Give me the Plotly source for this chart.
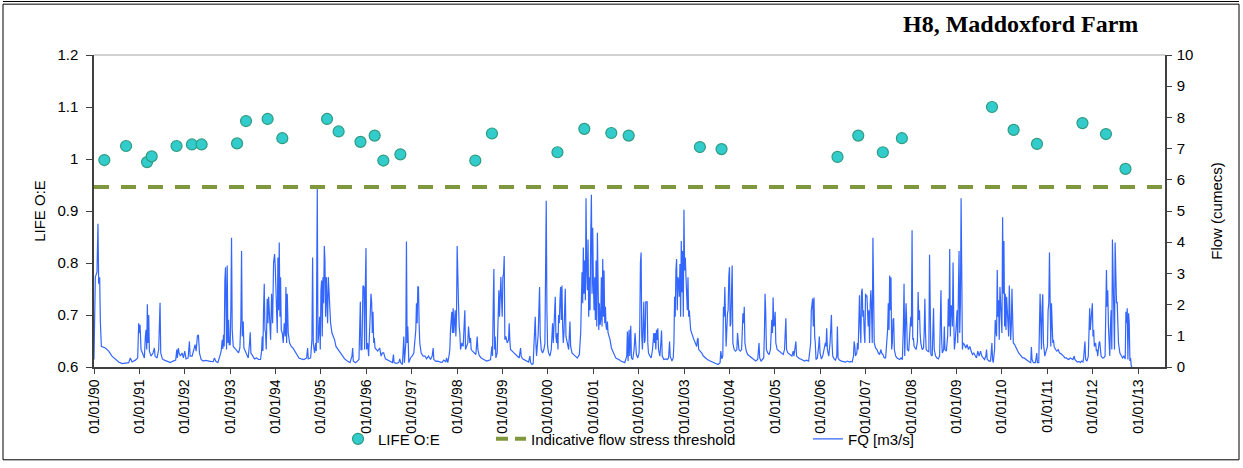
import pandas as pd
import plotly.graph_objects as go

# ---------------- data ----------------
life_dates = [
    "1990-03-25", "1990-09-16", "1991-03-04", "1991-04-10", "1991-10-27",
    "1992-02-28", "1992-05-16", "1993-02-25", "1993-05-08", "1993-10-29",
    "1994-02-24", "1995-02-19", "1995-05-23", "1995-11-15", "1996-03-08",
    "1996-05-17", "1996-10-01", "1998-05-27", "1998-10-08", "2000-03-18",
    "2000-10-20", "2001-05-25", "2001-10-12", "2003-05-08", "2003-10-29",
    "2006-05-19", "2006-11-02", "2007-05-19", "2007-10-19", "2009-10-13",
    "2010-04-05", "2010-10-10", "2011-10-11", "2012-04-17", "2012-09-21",
]
life_oe = [
    0.998, 1.025, 0.994, 1.005, 1.025,
    1.028, 1.028, 1.030, 1.073, 1.077,
    1.040, 1.077, 1.053, 1.033, 1.045,
    0.997, 1.009, 0.997, 1.049, 1.013,
    1.058, 1.050, 1.045, 1.023, 1.019,
    1.004, 1.045, 1.013, 1.040, 1.100,
    1.056, 1.029, 1.069, 1.048, 0.981,
]

threshold_dates = ["1990-01-01", "2013-08-05"]
threshold_oe = [0.946, 0.946]

# Flow readings: time as decimal year, flow in cumecs
fq_year = [
    # 1990
    1990.000, 1990.029, 1990.066, 1990.088, 1990.103, 1990.125, 1990.140, 1990.162, 1990.250, 1990.324,
    1990.397, 1990.471, 1990.544, 1990.618, 1990.691, 1990.765, 1990.801, 1990.838, 1990.912, 1990.963,
    1990.985,
    # 1991
    1991.000, 1991.015, 1991.037, 1991.081, 1991.110, 1991.132, 1991.147, 1991.162, 1991.176, 1991.191,
    1991.206, 1991.221, 1991.257, 1991.301, 1991.331, 1991.346, 1991.390, 1991.426, 1991.441, 1991.456,
    1991.471, 1991.507, 1991.551, 1991.596, 1991.640, 1991.684, 1991.743, 1991.801, 1991.824, 1991.838,
    1991.860, 1991.875, 1991.904, 1991.941, 1991.971,
    # 1992
    1992.000, 1992.029, 1992.074, 1992.103, 1992.118, 1992.162, 1992.206, 1992.228, 1992.250, 1992.279,
    1992.301, 1992.324, 1992.360, 1992.404, 1992.456, 1992.507, 1992.566, 1992.625, 1992.654, 1992.684,
    1992.728, 1992.772, 1992.801, 1992.824, 1992.838, 1992.853, 1992.868, 1992.882, 1992.897, 1992.919,
    1992.934, 1992.949, 1992.963, 1992.978,
    # 1993
    1993.000, 1993.015, 1993.029, 1993.044, 1993.066, 1993.096, 1993.125, 1993.154, 1993.184, 1993.213,
    1993.235, 1993.250, 1993.265, 1993.287, 1993.301, 1993.331, 1993.360, 1993.397, 1993.426, 1993.441,
    1993.456, 1993.493, 1993.537, 1993.581, 1993.625, 1993.669, 1993.691, 1993.706, 1993.721, 1993.735,
    1993.750, 1993.765, 1993.779, 1993.794, 1993.816, 1993.831, 1993.846, 1993.860, 1993.890, 1993.912,
    1993.934, 1993.956, 1993.978, 1993.993,
    # 1994
    1994.007, 1994.022, 1994.037, 1994.051, 1994.066, 1994.081, 1994.096, 1994.110, 1994.125, 1994.147,
    1994.169, 1994.191, 1994.213, 1994.228, 1994.243, 1994.257, 1994.279, 1994.309, 1994.346, 1994.382,
    1994.419, 1994.463, 1994.515, 1994.566, 1994.625, 1994.684, 1994.706, 1994.721, 1994.772, 1994.801,
    1994.816, 1994.831, 1994.860, 1994.882, 1994.897, 1994.919, 1994.934, 1994.949, 1994.971, 1994.985,
    # 1995
    1995.000, 1995.015, 1995.029, 1995.044, 1995.059, 1995.074, 1995.088, 1995.103, 1995.118, 1995.132,
    1995.147, 1995.162, 1995.176, 1995.191, 1995.213, 1995.243, 1995.272, 1995.301, 1995.331, 1995.375,
    1995.419, 1995.471, 1995.522, 1995.581, 1995.640, 1995.684, 1995.699, 1995.713, 1995.765, 1995.801,
    1995.838, 1995.868, 1995.882, 1995.904, 1995.926, 1995.949, 1995.963, 1995.978, 1995.993,
    # 1996
    1996.007, 1996.029, 1996.051, 1996.074, 1996.088, 1996.103, 1996.118, 1996.132, 1996.147, 1996.162,
    1996.176, 1996.191, 1996.213, 1996.250, 1996.294, 1996.324, 1996.353, 1996.382, 1996.419, 1996.471,
    1996.529, 1996.574, 1996.596, 1996.610, 1996.662, 1996.713, 1996.735, 1996.757, 1996.794, 1996.824,
    1996.838, 1996.868, 1996.882, 1996.897, 1996.912, 1996.934, 1996.971,
    # 1997
    1997.007, 1997.044, 1997.066, 1997.088, 1997.103, 1997.118, 1997.132, 1997.147, 1997.162, 1997.176,
    1997.206, 1997.250, 1997.294, 1997.324, 1997.368, 1997.412, 1997.449, 1997.471, 1997.485, 1997.529,
    1997.574, 1997.618, 1997.662, 1997.706, 1997.750, 1997.765, 1997.794, 1997.824, 1997.838, 1997.853,
    1997.868, 1997.882, 1997.897, 1997.912, 1997.926, 1997.941, 1997.956, 1997.971, 1997.985,
    # 1998
    1998.000, 1998.015, 1998.029, 1998.044, 1998.059, 1998.074, 1998.103, 1998.132, 1998.154, 1998.169,
    1998.184, 1998.206, 1998.235, 1998.250, 1998.265, 1998.279, 1998.294, 1998.309, 1998.338, 1998.368,
    1998.412, 1998.441, 1998.456, 1998.485, 1998.529, 1998.588, 1998.647, 1998.699, 1998.735, 1998.765,
    1998.779, 1998.794, 1998.809, 1998.824, 1998.838, 1998.853, 1998.882, 1998.904, 1998.919, 1998.934,
    1998.949, 1998.963, 1998.978, 1998.993,
    # 1999
    1999.007, 1999.022, 1999.037, 1999.051, 1999.074, 1999.103, 1999.132, 1999.147, 1999.162, 1999.176,
    1999.213, 1999.250, 1999.287, 1999.324, 1999.368, 1999.397, 1999.412, 1999.441, 1999.485, 1999.529,
    1999.574, 1999.603, 1999.618, 1999.647, 1999.676, 1999.691, 1999.706, 1999.721, 1999.735, 1999.750,
    1999.787, 1999.801, 1999.816, 1999.831, 1999.853, 1999.882, 1999.912, 1999.934, 1999.949, 1999.963,
    1999.978, 1999.993,
    # 2000
    2000.015, 2000.044, 2000.074, 2000.088, 2000.103, 2000.118, 2000.132, 2000.147, 2000.162, 2000.176,
    2000.191, 2000.206, 2000.221, 2000.235, 2000.250, 2000.265, 2000.279, 2000.294, 2000.309, 2000.324,
    2000.338, 2000.353, 2000.368, 2000.382, 2000.397, 2000.426, 2000.456, 2000.485, 2000.500, 2000.529,
    2000.559, 2000.603, 2000.647, 2000.691, 2000.721, 2000.735, 2000.750, 2000.765, 2000.779, 2000.794,
    2000.809, 2000.824, 2000.838, 2000.853, 2000.868, 2000.882, 2000.897, 2000.912, 2000.926, 2000.941,
    2000.956, 2000.971, 2000.985,
    # 2001
    2001.000, 2001.015, 2001.029, 2001.044, 2001.059, 2001.074, 2001.088, 2001.103, 2001.118, 2001.132,
    2001.147, 2001.162, 2001.176, 2001.191, 2001.206, 2001.221, 2001.235, 2001.250, 2001.265, 2001.279,
    2001.294, 2001.309, 2001.324, 2001.346, 2001.368, 2001.397, 2001.426, 2001.456, 2001.493, 2001.529,
    2001.566, 2001.603, 2001.647, 2001.691, 2001.735, 2001.750, 2001.765, 2001.787, 2001.801, 2001.824,
    2001.838, 2001.868, 2001.897, 2001.919, 2001.948, 2001.978,
    # 2002
    2002.007, 2002.022, 2002.037, 2002.052, 2002.066, 2002.081, 2002.111, 2002.125, 2002.140, 2002.155,
    2002.185, 2002.199, 2002.214, 2002.244, 2002.273, 2002.303, 2002.317, 2002.332, 2002.347, 2002.362,
    2002.376, 2002.391, 2002.406, 2002.421, 2002.435, 2002.465, 2002.487, 2002.502, 2002.517, 2002.554,
    2002.598, 2002.627, 2002.657, 2002.679, 2002.694, 2002.731, 2002.760, 2002.775, 2002.790, 2002.804,
    2002.819, 2002.834, 2002.849, 2002.863, 2002.878, 2002.893, 2002.908, 2002.923, 2002.937, 2002.952,
    2002.967, 2002.982, 2002.996,
    # 2003
    2003.011, 2003.026, 2003.041, 2003.055, 2003.070, 2003.085, 2003.100, 2003.114, 2003.129, 2003.144,
    2003.166, 2003.188, 2003.218, 2003.247, 2003.277, 2003.292, 2003.306, 2003.321, 2003.351, 2003.387,
    2003.424, 2003.469, 2003.513, 2003.572, 2003.631, 2003.690, 2003.749, 2003.793, 2003.808, 2003.830,
    2003.852, 2003.867, 2003.882, 2003.897, 2003.911, 2003.926, 2003.956, 2003.970, 2003.985,
    # 2004
    2004.000, 2004.015, 2004.030, 2004.044, 2004.059, 2004.074, 2004.103, 2004.133, 2004.162, 2004.177,
    2004.192, 2004.207, 2004.236, 2004.266, 2004.280, 2004.295, 2004.310, 2004.325, 2004.339, 2004.369,
    2004.399, 2004.443, 2004.487, 2004.531, 2004.576, 2004.620, 2004.649, 2004.664, 2004.694, 2004.723,
    2004.753, 2004.768, 2004.782, 2004.797, 2004.812, 2004.841, 2004.871, 2004.900, 2004.915, 2004.930,
    2004.945, 2004.959, 2004.974, 2004.989,
    # 2005
    2005.004, 2005.018, 2005.048, 2005.092, 2005.137, 2005.181, 2005.210, 2005.225, 2005.240, 2005.255,
    2005.284, 2005.328, 2005.373, 2005.402, 2005.417, 2005.461, 2005.476, 2005.520, 2005.565, 2005.609,
    2005.653, 2005.697, 2005.742, 2005.771, 2005.786, 2005.801, 2005.815, 2005.830, 2005.845, 2005.860,
    2005.875, 2005.889, 2005.904, 2005.934, 2005.963, 2005.978, 2005.993,
    # 2006
    2006.022, 2006.052, 2006.081, 2006.111, 2006.125, 2006.140, 2006.155, 2006.185, 2006.214, 2006.229,
    2006.244, 2006.258, 2006.273, 2006.303, 2006.332, 2006.362, 2006.376, 2006.391, 2006.421, 2006.465,
    2006.509, 2006.554, 2006.598, 2006.642, 2006.672, 2006.701, 2006.731, 2006.745, 2006.760, 2006.775,
    2006.804, 2006.819, 2006.834, 2006.849, 2006.863, 2006.878, 2006.893, 2006.908, 2006.923, 2006.937,
    2006.952, 2006.967, 2006.982, 2006.996,
    # 2007
    2007.011, 2007.026, 2007.041, 2007.055, 2007.070, 2007.085, 2007.100, 2007.114, 2007.129, 2007.144,
    2007.159, 2007.173, 2007.188, 2007.218, 2007.247, 2007.277, 2007.306, 2007.336, 2007.351, 2007.380,
    2007.410, 2007.439, 2007.454, 2007.469, 2007.483, 2007.498, 2007.513, 2007.528, 2007.542, 2007.557,
    2007.572, 2007.587, 2007.601, 2007.616, 2007.631, 2007.661, 2007.690, 2007.720, 2007.749, 2007.779,
    2007.808, 2007.830, 2007.845, 2007.860, 2007.875, 2007.889, 2007.904, 2007.919, 2007.948, 2007.978,
    2007.993,
    # 2008
    2008.007, 2008.022, 2008.037, 2008.052, 2008.066, 2008.089, 2008.111, 2008.140, 2008.155, 2008.170,
    2008.185, 2008.199, 2008.214, 2008.244, 2008.273, 2008.288, 2008.303, 2008.317, 2008.332, 2008.362,
    2008.391, 2008.406, 2008.421, 2008.435, 2008.465, 2008.494, 2008.509, 2008.539, 2008.568, 2008.598,
    2008.627, 2008.642, 2008.657, 2008.672, 2008.686, 2008.716, 2008.731, 2008.745, 2008.775, 2008.804,
    2008.819, 2008.834, 2008.849, 2008.863, 2008.878, 2008.893, 2008.908, 2008.923, 2008.937, 2008.952,
    2008.967, 2008.982, 2008.996,
    # 2009
    2009.011, 2009.026, 2009.041, 2009.055, 2009.070, 2009.085, 2009.100, 2009.114, 2009.129, 2009.144,
    2009.173, 2009.203, 2009.232, 2009.262, 2009.292, 2009.321, 2009.351, 2009.380, 2009.410, 2009.439,
    2009.469, 2009.498, 2009.528, 2009.557, 2009.587, 2009.616, 2009.646, 2009.661, 2009.675, 2009.720,
    2009.749, 2009.779, 2009.793, 2009.808, 2009.838, 2009.852, 2009.867, 2009.882, 2009.897, 2009.911,
    2009.926, 2009.941, 2009.956, 2009.970, 2009.985,
    # 2010
    2010.000, 2010.015, 2010.030, 2010.044, 2010.059, 2010.074, 2010.089, 2010.103, 2010.118, 2010.133,
    2010.148, 2010.162, 2010.177, 2010.192, 2010.207, 2010.221, 2010.236, 2010.251, 2010.280, 2010.310,
    2010.339, 2010.369, 2010.399, 2010.428, 2010.458, 2010.487, 2010.524, 2010.561, 2010.605, 2010.635,
    2010.649, 2010.664, 2010.694, 2010.738, 2010.768, 2010.782, 2010.812, 2010.841, 2010.856, 2010.871,
    2010.886, 2010.900, 2010.915, 2010.930, 2010.945, 2010.974,
    # 2011
    2011.004, 2011.018, 2011.033, 2011.048, 2011.063, 2011.077, 2011.092, 2011.107, 2011.122, 2011.137,
    2011.151, 2011.181, 2011.210, 2011.240, 2011.269, 2011.299, 2011.328, 2011.358, 2011.387, 2011.417,
    2011.446, 2011.476, 2011.506, 2011.535, 2011.565, 2011.594, 2011.609, 2011.638, 2011.668, 2011.697,
    2011.727, 2011.756, 2011.786, 2011.801, 2011.815, 2011.830, 2011.845, 2011.875, 2011.904, 2011.919,
    2011.934, 2011.948, 2011.963, 2011.978, 2011.993,
    # 2012
    2012.007, 2012.022, 2012.037, 2012.066, 2012.081, 2012.096, 2012.111, 2012.125, 2012.140, 2012.155,
    2012.170, 2012.185, 2012.214, 2012.244, 2012.273, 2012.288, 2012.303, 2012.317, 2012.332, 2012.347,
    2012.362, 2012.376, 2012.391, 2012.406, 2012.421, 2012.435, 2012.450, 2012.465, 2012.480, 2012.494,
    2012.509, 2012.524, 2012.539, 2012.554, 2012.568, 2012.598, 2012.627, 2012.657, 2012.686, 2012.716,
    2012.731, 2012.745, 2012.760, 2012.775, 2012.790, 2012.804, 2012.819, 2012.834, 2012.849, 2012.863,
]
fq_cumecs = [
    # 1990
    0.24, 2.88, 3.04, 4.59, 2.67, 2.88, 1.46, 0.66, 0.61, 0.51,
    0.35, 0.26, 0.16, 0.11, 0.12, 0.14, 0.29, 0.16, 0.22, 0.29,
    1.40,
    # 1991
    1.09, 1.35, 0.56, 0.40, 0.29, 0.98, 1.19, 0.56, 2.01, 0.77,
    1.67, 0.51, 0.35, 0.45, 0.61, 0.35, 0.29, 0.56, 1.30, 2.06,
    0.45, 0.26, 0.22, 0.19, 0.16, 0.14, 0.19, 0.22, 0.56, 0.29,
    0.61, 0.45, 0.35, 0.45, 0.29,
    # 1992
    0.51, 0.26, 0.29, 0.82, 0.35, 0.35, 0.56, 0.72, 0.51, 1.00,
    1.03, 0.45, 0.24, 0.19, 0.21, 0.19, 0.18, 0.17, 0.29, 0.18,
    0.14, 0.35, 0.51, 0.87, 0.58, 1.03, 0.66, 2.77, 3.20, 0.56,
    3.25, 0.77, 1.51, 0.72,
    # 1993
    0.72, 1.98, 4.14, 1.19, 0.66, 0.61, 0.56, 0.51, 0.45, 0.61,
    1.51, 3.72, 0.98, 1.46, 0.61, 0.51, 0.40, 0.29, 0.77, 1.11,
    0.45, 0.35, 0.26, 0.29, 0.24, 0.24, 0.51, 0.98, 0.51, 1.82,
    2.67, 1.19, 1.09, 0.56, 2.19, 1.40, 2.25, 1.82, 0.87, 2.35,
    1.40, 3.35, 3.62, 3.20,
    # 1994
    2.46, 1.51, 1.09, 3.51, 1.82, 3.99, 1.61, 2.88, 1.19, 1.09,
    0.77, 1.40, 0.98, 2.56, 0.77, 2.35, 1.09, 0.77, 0.66, 0.61,
    0.51, 0.40, 0.29, 0.26, 0.24, 0.29, 0.61, 0.26, 0.29, 0.87,
    3.51, 0.77, 0.45, 0.77, 0.51, 5.73, 0.77, 1.03, 1.61, 0.56,
    # 1995
    2.46, 2.77, 0.98, 2.88, 2.04, 3.88, 3.41, 1.61, 2.88, 2.09,
    1.40, 2.88, 2.35, 1.61, 1.40, 1.09, 0.98, 0.87, 0.66, 0.56,
    0.45, 0.35, 0.26, 0.19, 0.14, 0.35, 0.61, 0.19, 0.14, 0.19,
    0.24, 2.09, 0.56, 0.56, 2.61, 2.56, 0.56, 2.56, 3.81,
    # 1996
    0.56, 0.77, 0.35, 1.09, 1.61, 2.35, 2.04, 1.09, 1.77, 0.77,
    0.93, 0.61, 0.56, 0.51, 0.61, 0.35, 0.45, 0.45, 0.26, 0.22,
    0.19, 0.14, 0.40, 0.14, 0.12, 0.14, 0.26, 0.14, 0.08, 0.98,
    0.14, 0.77, 4.02, 0.77, 1.30, 0.14, 0.29,
    # 1997
    0.35, 0.45, 0.77, 1.19, 2.04, 1.40, 2.58, 2.56, 1.35, 0.77,
    0.45, 0.35, 0.35, 0.26, 0.35, 0.24, 0.35, 0.61, 0.24, 0.18,
    0.19, 0.16, 0.14, 0.22, 0.16, 0.29, 0.14, 0.40, 0.56, 1.19,
    1.40, 1.77, 1.09, 1.88, 1.09, 1.51, 1.82, 0.98, 1.61,
    # 1998
    3.88, 2.46, 2.04, 1.30, 1.09, 0.56, 0.77, 0.66, 1.61, 1.82,
    0.56, 0.66, 0.77, 1.30, 0.98, 0.77, 0.93, 0.56, 0.51, 0.45,
    0.40, 0.98, 0.56, 0.37, 0.29, 0.24, 0.19, 0.21, 0.24, 0.66,
    0.35, 1.88, 3.14, 0.56, 0.98, 0.29, 0.45, 1.61, 2.46, 1.61,
    2.56, 2.88, 2.19, 1.61,
    # 1999
    2.88, 2.98, 3.56, 0.87, 0.98, 0.77, 0.87, 1.40, 0.82, 0.56,
    0.51, 0.45, 0.40, 0.35, 0.29, 0.61, 0.35, 0.26, 0.22, 0.19,
    0.16, 0.35, 0.14, 0.08, 0.11, 0.66, 0.98, 1.61, 0.77, 0.35,
    1.09, 1.82, 2.56, 0.98, 0.56, 0.45, 0.56, 0.77, 2.88, 5.33,
    1.82, 0.66,
    # 2000
    0.45, 0.35, 0.56, 0.98, 1.40, 0.77, 1.30, 1.61, 2.25, 0.98,
    0.77, 1.09, 0.56, 1.67, 1.40, 2.14, 2.56, 1.51, 2.61, 1.30,
    0.77, 1.09, 1.82, 2.51, 0.98, 0.77, 0.56, 1.46, 0.66, 0.45,
    0.40, 0.35, 0.29, 0.40, 1.09, 2.04, 3.04, 2.04, 3.83, 2.35,
    3.41, 2.14, 5.41, 3.09, 2.46, 4.09, 1.61, 2.88, 1.82, 4.14,
    5.52, 2.35, 4.46,
    # 2001
    2.67, 1.82, 2.88, 1.51, 3.41, 1.30, 4.30, 1.61, 1.19, 2.04,
    1.35, 1.51, 2.88, 1.30, 3.46, 1.61, 3.09, 1.40, 1.93, 1.30,
    1.19, 1.46, 1.09, 0.98, 0.87, 0.61, 0.51, 0.40, 0.29, 0.26,
    0.24, 0.19, 0.16, 0.14, 0.35, 1.14, 0.19, 1.19, 0.35, 1.32,
    0.29, 0.24, 0.56, 1.09, 0.40, 0.29,
    # 2002
    0.45, 1.30, 3.35, 3.67, 0.98, 0.56, 2.09, 0.77, 0.87, 2.09,
    2.09, 0.77, 0.45, 0.35, 0.29, 0.56, 0.77, 1.09, 0.77, 1.09,
    0.56, 1.19, 0.87, 1.24, 0.56, 0.35, 0.77, 1.17, 0.35, 0.24,
    0.26, 0.24, 0.29, 0.82, 0.35, 0.19, 0.29, 0.77, 2.25, 1.61,
    3.09, 3.46, 1.82, 2.88, 2.77, 2.25, 3.30, 1.61, 4.04, 2.40,
    3.72, 1.61, 5.04,
    # 2003
    3.09, 3.51, 2.88, 2.46, 1.82, 2.88, 1.61, 1.82, 1.40, 1.19,
    1.09, 0.98, 0.87, 0.77, 0.66, 0.87, 0.93, 0.56, 0.51, 0.45,
    0.35, 0.29, 0.24, 0.19, 0.16, 0.12, 0.08, 0.14, 0.51, 0.26,
    0.35, 1.93, 1.61, 2.56, 0.77, 0.66, 1.72, 1.82, 2.88,
    # 2004
    3.20, 1.30, 1.40, 2.35, 3.25, 0.77, 0.56, 0.51, 0.56, 1.09,
    0.77, 0.56, 0.51, 0.56, 1.09, 1.72, 1.40, 1.93, 0.77, 0.51,
    0.40, 0.35, 0.29, 0.24, 0.19, 0.24, 0.77, 0.29, 0.19, 0.24,
    0.29, 1.09, 2.35, 1.72, 0.56, 0.45, 0.40, 0.56, 0.98, 1.51,
    1.09, 2.23, 1.30, 1.40,
    # 2005
    1.77, 0.77, 0.56, 0.51, 0.45, 0.40, 0.56, 1.09, 1.56, 0.56,
    0.45, 0.40, 0.35, 0.51, 0.35, 0.82, 0.35, 0.29, 0.26, 0.22,
    0.19, 0.22, 0.19, 0.56, 0.77, 1.82, 2.04, 2.19, 1.30, 2.23,
    0.98, 0.77, 0.24, 0.29, 0.66, 0.98, 0.45,
    # 2006
    0.26, 0.35, 0.56, 0.77, 0.66, 1.24, 0.56, 0.35, 0.77, 1.30,
    1.67, 0.77, 0.35, 0.26, 0.22, 0.35, 1.30, 0.29, 0.22, 0.19,
    0.18, 0.16, 0.19, 0.16, 0.18, 0.16, 0.35, 0.82, 0.66, 0.35,
    0.45, 0.77, 0.56, 2.04, 2.30, 1.30, 0.77, 2.40, 2.51, 1.61,
    1.82, 1.09, 0.77, 2.35,
    # 2007
    2.25, 2.30, 1.61, 1.30, 1.82, 0.77, 2.04, 2.46, 1.82, 0.77,
    4.14, 0.98, 0.77, 0.61, 0.56, 0.45, 0.40, 0.56, 0.45, 0.40,
    0.29, 0.29, 0.56, 1.09, 1.19, 2.04, 1.19, 2.93, 1.82, 2.88,
    0.56, 0.77, 1.51, 1.56, 0.56, 0.35, 0.29, 0.26, 0.24, 0.29,
    0.24, 1.30, 2.67, 0.35, 0.98, 2.04, 1.40, 0.56, 0.51, 1.30,
    1.61,
    # 2008
    1.30, 4.38, 0.87, 0.93, 0.66, 0.61, 0.56, 0.82, 2.40, 1.51,
    1.82, 1.09, 0.77, 0.56, 0.61, 1.09, 2.19, 1.09, 0.56, 0.51,
    0.49, 3.60, 0.45, 0.40, 0.35, 1.88, 0.56, 0.35, 0.29, 0.26,
    0.35, 1.30, 2.46, 0.87, 0.45, 0.56, 1.30, 0.56, 0.51, 0.98,
    2.19, 1.30, 3.78, 0.98, 1.98, 1.93, 1.30, 3.35, 1.61, 0.56,
    0.77, 0.98, 1.40,
    # 2009
    1.82, 0.77, 2.46, 3.72, 1.09, 2.04, 5.41, 1.82, 0.56, 0.77,
    0.72, 0.61, 0.72, 0.56, 0.66, 0.51, 0.40, 0.45, 0.35, 0.29,
    0.51, 0.35, 0.51, 0.35, 0.29, 0.24, 0.35, 0.56, 0.24, 0.19,
    0.19, 0.77, 0.24, 0.14, 0.56, 1.51, 1.19, 0.98, 3.11, 1.61,
    2.14, 0.87, 2.56, 1.82, 1.61,
    # 2010
    1.09, 4.80, 2.35, 4.04, 1.30, 2.35, 1.19, 2.25, 1.82, 1.82,
    0.98, 2.61, 2.04, 0.87, 1.30, 2.51, 1.61, 0.77, 0.72, 0.61,
    0.51, 0.45, 0.40, 0.35, 0.29, 0.29, 0.24, 0.19, 0.16, 0.14,
    0.64, 0.24, 0.14, 0.14, 0.45, 0.14, 0.14, 2.35, 1.09, 0.56,
    1.93, 2.33, 0.77, 0.35, 0.35, 0.51,
    # 2011
    0.66, 1.82, 2.04, 3.67, 1.61, 0.66, 2.04, 1.51, 0.77, 0.87,
    0.66, 0.56, 0.51, 0.56, 0.45, 0.43, 0.40, 0.35, 0.29, 0.29,
    0.26, 0.24, 0.29, 0.26, 0.24, 0.35, 0.24, 0.19, 0.16, 0.18,
    0.14, 0.19, 0.16, 0.29, 0.77, 0.82, 0.24, 0.19, 0.35, 1.30,
    1.88, 1.19, 1.51, 1.98, 2.04,
    # 2012
    0.98, 1.19, 0.66, 0.77, 0.51, 0.56, 0.35, 0.66, 0.77, 0.82,
    0.56, 0.35, 0.29, 0.29, 0.35, 1.51, 3.11, 1.93, 2.46, 1.30,
    0.77, 0.35, 1.30, 1.82, 0.56, 4.09, 2.88, 1.82, 0.56, 3.99,
    2.88, 2.04, 2.09, 1.19, 0.77, 0.45, 0.35, 0.29, 0.35, 0.26,
    1.77, 1.40, 1.88, 0.24, 1.72, 1.40, 0.19, 0.29, 0.03, 0.00,
]
assert len(fq_year) == len(fq_cumecs)

x_tick_dates = [f"{y}-01-01" for y in range(1990, 2014)]
x_range = ["1990-01-01", "2013-08-05"]
oe_ticks = [0.6, 0.7, 0.8, 0.9, 1.0, 1.1, 1.2]
oe_tick_labels = ["0.6", "0.7", "0.8", "0.9", "1", "1.1", "1.2"]
flow_ticks = list(range(0, 11))


def decimal_year_to_timestamp(v):
    year = int(v)
    start = pd.Timestamp(year=year, month=1, day=1)
    end = pd.Timestamp(year=year + 1, month=1, day=1)
    return start + (v - year) * (end - start)


fq_dates = [decimal_year_to_timestamp(v) for v in fq_year]

# ---------------- figure ----------------
FONT = "Liberation Sans, Arial, sans-serif"
AX = "#404040"
THRESH_COLOR = "#7F983E"

fig = go.Figure()
fig.add_trace(go.Scatter(
    x=fq_dates, y=fq_cumecs, mode="lines", name="FQ [m3/s]",
    line=dict(color="#3366FF", width=1.2), yaxis="y", legend="legend3",
    hoverinfo="skip",
))
fig.add_trace(go.Scatter(
    x=threshold_dates, y=threshold_oe, mode="lines",
    name="Indicative flow stress threshold",
    line=dict(color=THRESH_COLOR, width=4, dash="15px,12px"),
    yaxis="y2", showlegend=False,
))
# legend entry for the threshold (draws nothing, shows two dashes in the key)
fig.add_trace(go.Scatter(
    x=[None], y=[None], mode="lines",
    name="Indicative flow stress threshold",
    line=dict(color=THRESH_COLOR, width=4, dash="12px,7px"),
    yaxis="y2", legend="legend2",
))
fig.add_trace(go.Scatter(
    x=life_dates, y=life_oe, mode="markers", name="LIFE O:E",
    marker=dict(size=11, color="#33CCCC", line=dict(color="#2E9C80", width=1.2)),
    yaxis="y2", legend="legend",
))

W, H = 1243, 468
L, R, T, B = 94, 78, 55, 97
pw, ph = W - L - R, H - T - B


def px(xp):
    return (xp - L) / pw


def py(yp):
    return (H - B - yp) / ph


legend_common = dict(
    orientation="h", y=py(444), yanchor="middle", xanchor="left",
    font=dict(family=FONT, size=15, color="black"),
    bgcolor="rgba(0,0,0,0)", borderwidth=0,
)

fig.update_layout(
    width=W, height=H, autosize=False,
    margin=dict(l=L, r=R, t=T, b=B),
    paper_bgcolor="white", plot_bgcolor="white",
    font=dict(family=FONT, size=15, color="black"),
    showlegend=True,
    legend=dict(x=px(338), **legend_common),
    legend2=dict(x=px(491), **legend_common),
    legend3=dict(x=px(808), **legend_common),
    xaxis=dict(
        type="date", range=x_range, tickvals=x_tick_dates, tickformat="%d/%m/%y",
        tickangle=-90, ticks="outside", ticklen=5, tickcolor=AX, tickwidth=1,
        showline=True, linecolor=AX, linewidth=1.5, showgrid=False, zeroline=False,
        tickfont=dict(family=FONT, size=14, color="black"),
    ),
    yaxis=dict(
        side="right", range=[0, 10], tickvals=flow_ticks,
        ticks="outside", ticklen=5, tickcolor=AX, tickwidth=1,
        showline=True, linecolor=AX, linewidth=1.5, showgrid=False, zeroline=False,
        tickfont=dict(family=FONT, size=15, color="black"), ticklabelstandoff=2,
        title=dict(text="Flow (cumecs)", font=dict(family=FONT, size=15, color="black"), standoff=19),
    ),
    yaxis2=dict(
        overlaying="y", side="left", range=[0.6, 1.2], tickvals=oe_ticks, ticktext=oe_tick_labels,
        ticks="outside", ticklen=6, tickcolor=AX, tickwidth=1,
        showline=True, linecolor=AX, linewidth=1.5, showgrid=False, zeroline=False,
        tickfont=dict(family=FONT, size=15, color="black"), ticklabelstandoff=5,
        title=dict(text="LIFE O:E", font=dict(family=FONT, size=15, color="black"), standoff=8),
    ),
    yaxis3=dict(
        overlaying="y", side="right", range=[0, 10], tickvals=flow_ticks,
        ticks="inside", ticklen=5, tickcolor=AX, tickwidth=1,
        showticklabels=False, showline=False, showgrid=False, zeroline=False,
    ),
    annotations=[dict(
        text="<b>H8, Maddoxford Farm</b>", xref="paper", yref="paper",
        x=px(1140), y=py(24), xanchor="right", yanchor="middle", showarrow=False,
        font=dict(family="Liberation Serif, Times New Roman, serif", size=24, color="black"),
    )],
    shapes=[
        dict(type="line", xref="paper", yref="paper", x0=0, x1=1, y0=1, y1=1,
             line=dict(color="#A6A6A6", width=1)),
        dict(type="rect", xref="paper", yref="paper",
             x0=px(3), x1=px(1239), y0=py(465), y1=py(3.5),
             line=dict(color="black", width=1)),
        dict(type="line", xref="paper", yref="paper",
             x0=px(3), x1=px(1239), y0=py(0.8), y1=py(0.8),
             line=dict(color="black", width=1)),
    ],
)

fig.write_html(
    "out.html",
    config={"displayModeBar": False, "responsive": False},
    post_script="document.body.style.margin='0px';",
)
